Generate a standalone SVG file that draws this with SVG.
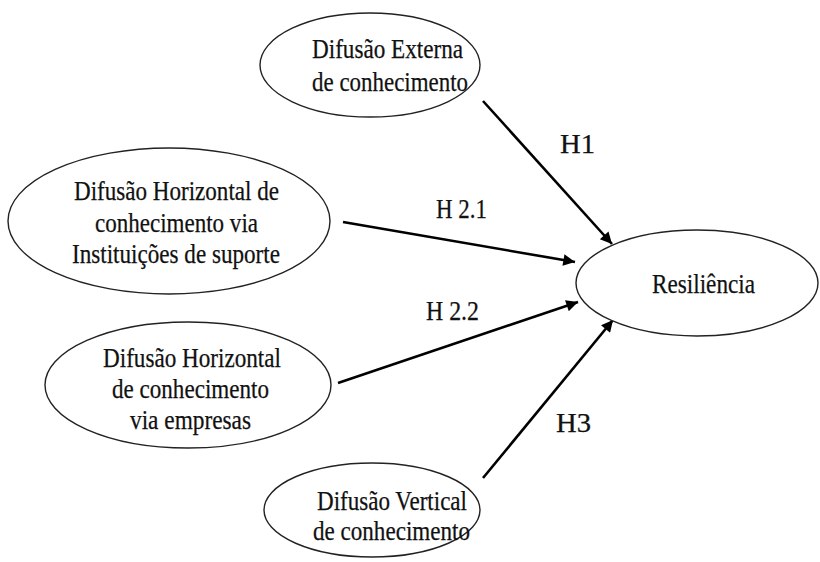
<svg xmlns="http://www.w3.org/2000/svg" width="820" height="562" viewBox="0 0 820 562">
<defs>
<marker id="ah" viewBox="0 0 10 10" refX="10" refY="5" markerWidth="5.5" markerHeight="4.5" markerUnits="strokeWidth" orient="auto">
<path d="M0,0 L10,5 L0,10 z" fill="#000"/>
</marker>
<style>
.node ellipse{fill:#fff;stroke:#222;stroke-width:1.4}
.edge{stroke:#000;stroke-width:2.6;fill:none;marker-end:url(#ah)}
</style>
</defs>
<rect width="820" height="562" fill="#fff"/>
<g font-family="'Liberation Serif', 'Times New Roman', serif" font-size="27" fill="#111" stroke="#111" stroke-width="0.25">
<g id="connectors">
<line class="edge" x1="483" y1="101" x2="612" y2="244"/>
<line class="edge" x1="343" y1="222" x2="575" y2="262"/>
<line class="edge" x1="338" y1="383" x2="578" y2="302"/>
<line class="edge" x1="483" y1="478" x2="613" y2="320"/>
<text x="560" y="153" textLength="35" lengthAdjust="spacingAndGlyphs">H1</text>
<text x="436" y="218" textLength="51" lengthAdjust="spacingAndGlyphs">H 2.1</text>
<text x="426" y="320" textLength="53" lengthAdjust="spacingAndGlyphs">H 2.2</text>
<text x="556" y="432" textLength="35" lengthAdjust="spacingAndGlyphs">H3</text>
</g>
<g id="n1" class="node">
<ellipse cx="370" cy="65" rx="110" ry="52"/>
<text x="312" y="58" textLength="151" lengthAdjust="spacingAndGlyphs">Difusão Externa</text>
<text x="312" y="91" textLength="156" lengthAdjust="spacingAndGlyphs">de conhecimento</text>
</g>
<g id="n2" class="node">
<ellipse cx="169" cy="221" rx="161" ry="73"/>
<text x="74" y="200" textLength="205" lengthAdjust="spacingAndGlyphs">Difusão Horizontal de</text>
<text x="95" y="232" textLength="163" lengthAdjust="spacingAndGlyphs">conhecimento via</text>
<text x="72" y="263" textLength="208" lengthAdjust="spacingAndGlyphs">Instituições de suporte</text>
</g>
<g id="n3" class="node">
<ellipse cx="697" cy="283" rx="121" ry="53"/>
<text x="652" y="293" textLength="103" lengthAdjust="spacingAndGlyphs">Resiliência</text>
</g>
<g id="n4" class="node">
<ellipse cx="188" cy="385" rx="143" ry="63"/>
<text x="103" y="367" textLength="178" lengthAdjust="spacingAndGlyphs">Difusão Horizontal</text>
<text x="112" y="398" textLength="157" lengthAdjust="spacingAndGlyphs">de conhecimento</text>
<text x="130" y="429" textLength="121" lengthAdjust="spacingAndGlyphs">via empresas</text>
</g>
<g id="n5" class="node">
<ellipse cx="372" cy="510" rx="108" ry="47"/>
<text x="317" y="510" textLength="150" lengthAdjust="spacingAndGlyphs">Difusão Vertical</text>
<text x="313" y="540" textLength="157" lengthAdjust="spacingAndGlyphs">de conhecimento</text>
</g>
</g>
</svg>
